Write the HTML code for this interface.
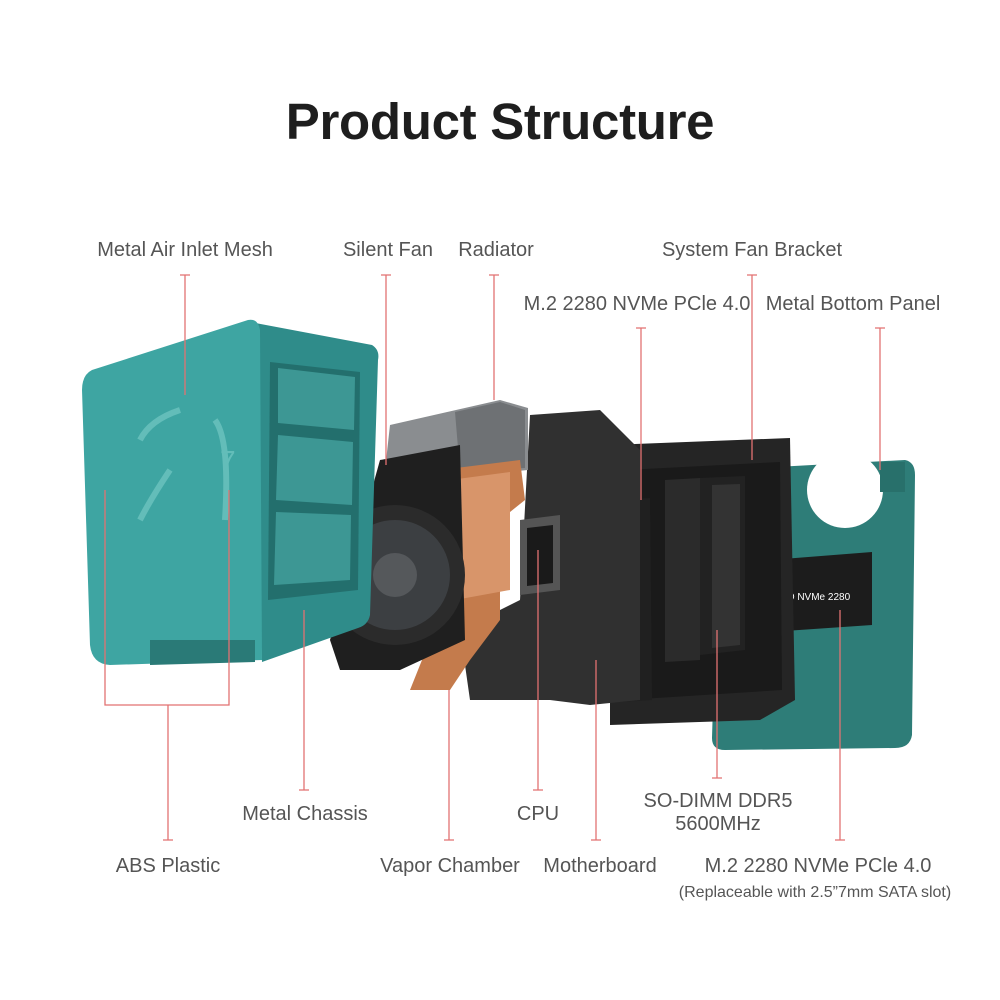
<!DOCTYPE html>
<html><head><meta charset="utf-8"><style>
html,body{margin:0;padding:0;background:#fff;}
body{width:1000px;height:1000px;position:relative;overflow:hidden;font-family:"Liberation Sans",sans-serif;}
.t{position:absolute;left:0;width:1000px;text-align:center;top:92px;font-size:51px;font-weight:bold;color:#1e1e1e;letter-spacing:-0.3px;}
.l{position:absolute;font-size:20px;color:#555;white-space:nowrap;transform:translateX(-50%);line-height:23px;text-align:center;}
svg{position:absolute;left:0;top:0;}
</style></head><body>
<svg width="1000" height="1000" viewBox="0 0 1000 1000">
<path d="M720,470 L905,460 Q915,462 915,475 L912,735 Q910,748 895,748 L725,750 Q712,750 712,738 Z" fill="#2e7d78"/>
<circle cx="845" cy="490" r="38" fill="#fff"/>
<rect x="880" y="462" width="25" height="30" fill="#28706b"/>
<path d="M770,560 L872,552 L872,625 L770,632 Z" fill="#1c1c1c"/>
<text x="774" y="600" font-size="10" fill="#fff" font-family="Liberation Sans">SSD NVMe 2280</text>
<path d="M610,445 L790,438 L795,700 L760,720 L610,725 Z" fill="#252525"/>
<path d="M625,470 L780,462 L782,690 L625,700 Z" fill="#1a1a1a"/>
<path d="M665,480 L700,478 L700,660 L665,662 Z" fill="#2b2b2b"/>
<path d="M700,478 L745,476 L745,650 L700,655 Z" fill="#222"/>
<path d="M712,485 L740,484 L740,645 L712,648 Z" fill="#333"/>
<path d="M618,500 L650,498 L652,700 L620,702 Z" fill="#202020"/>
<path d="M530,415 L600,410 L640,450 L640,700 L590,705 L550,700 L470,700 L460,630 L520,600 Z" fill="#303030"/>
<path d="M520,520 L560,515 L560,590 L520,595 Z" fill="#555"/>
<path d="M527,528 L553,525 L553,583 L527,586 Z" fill="#1a1a1a"/>
<path d="M390,425 L500,400 L528,408 L528,470 L420,480 L385,470 Z" fill="#8a8d90"/>
<path d="M455,412 L500,402 L525,410 L525,468 L460,472 Z" fill="#6e7174"/>
<path d="M440,470 L520,460 L525,500 L500,520 L500,620 L470,660 L450,690 L410,690 L430,640 L440,600 Z" fill="#c47b4c"/>
<path d="M450,480 L510,472 L510,590 L455,600 Z" fill="#d8956a"/>
<path d="M380,460 L460,445 L465,640 L400,670 L340,670 L330,640 Z" fill="#1f1f1f"/>
<circle cx="395" cy="575" r="70" fill="#2b2b2b"/>
<circle cx="395" cy="575" r="55" fill="#3c3f42"/>
<circle cx="395" cy="575" r="22" fill="#55585b"/>
<path d="M250,322 L372,345 Q380,350 378,360 L370,615 Q368,625 358,628 L262,662 Z" fill="#2f8c8a"/>
<path d="M270,362 L360,372 L358,590 L268,600 Z" fill="#236f6d"/>
<path d="M278,368 L355,377 L354,430 L278,423 Z M278,435 L353,442 L352,505 L276,500 Z M276,512 L351,515 L350,580 L274,585 Z" fill="#3d9794"/>
<path d="M92,370 L248,320 Q258,318 260,330 L262,660 L110,665 Q92,664 90,645 L82,390 Q82,375 92,370 Z" fill="#3ea5a2"/>
<path d="M140,440 Q150,420 180,410 M170,470 Q150,500 140,520 M215,420 Q230,440 225,520" stroke="#63bdb9" stroke-width="6" fill="none"/>
<text x="220" y="470" font-size="28" fill="#63bdb9" font-family="Liberation Sans">7</text>
<path d="M150,640 L255,640 L255,662 L150,665 Z" fill="#2a7a77"/>
<g stroke="#e27272" stroke-width="1.3" fill="none">
<path d="M185,275 V395 M180,275 H190"/>
<path d="M386,275 V465 M381,275 H391"/>
<path d="M494,275 V400 M489,275 H499"/>
<path d="M752,275 V460 M747,275 H757"/>
<path d="M641,328 V500 M636,328 H646"/>
<path d="M880,328 V470 M875,328 H885"/>
<path d="M105,490 V705 H229 V490 M168,705 V840 M163,840 H173"/>
<path d="M304,610 V790 M299,790 H309"/>
<path d="M449,690 V840 M444,840 H454"/>
<path d="M538,550 V790 M533,790 H543"/>
<path d="M596,660 V840 M591,840 H601"/>
<path d="M717,630 V778 M712,778 H722"/>
<path d="M840,610 V840 M835,840 H845"/>
</g>
</svg>
<div class="t">Product Structure</div>
<div class="l" style="left:185px;top:239px">Metal Air Inlet Mesh</div>
<div class="l" style="left:388px;top:239px">Silent Fan</div>
<div class="l" style="left:496px;top:239px">Radiator</div>
<div class="l" style="left:752px;top:239px">System Fan Bracket</div>
<div class="l" style="left:637px;top:293px">M.2 2280 NVMe PCle 4.0</div>
<div class="l" style="left:853px;top:293px">Metal Bottom Panel</div>
<div class="l" style="left:305px;top:803px">Metal Chassis</div>
<div class="l" style="left:538px;top:803px">CPU</div>
<div class="l" style="left:718px;top:790px">SO-DIMM DDR5<br>5600MHz</div>
<div class="l" style="left:168px;top:855px">ABS Plastic</div>
<div class="l" style="left:450px;top:855px">Vapor Chamber</div>
<div class="l" style="left:600px;top:855px">Motherboard</div>
<div class="l" style="left:818px;top:855px">M.2 2280 NVMe PCle 4.0</div>
<div class="l" style="left:815px;top:881px;font-size:16px">(Replaceable with 2.5”7mm SATA slot)</div>
</body></html>
